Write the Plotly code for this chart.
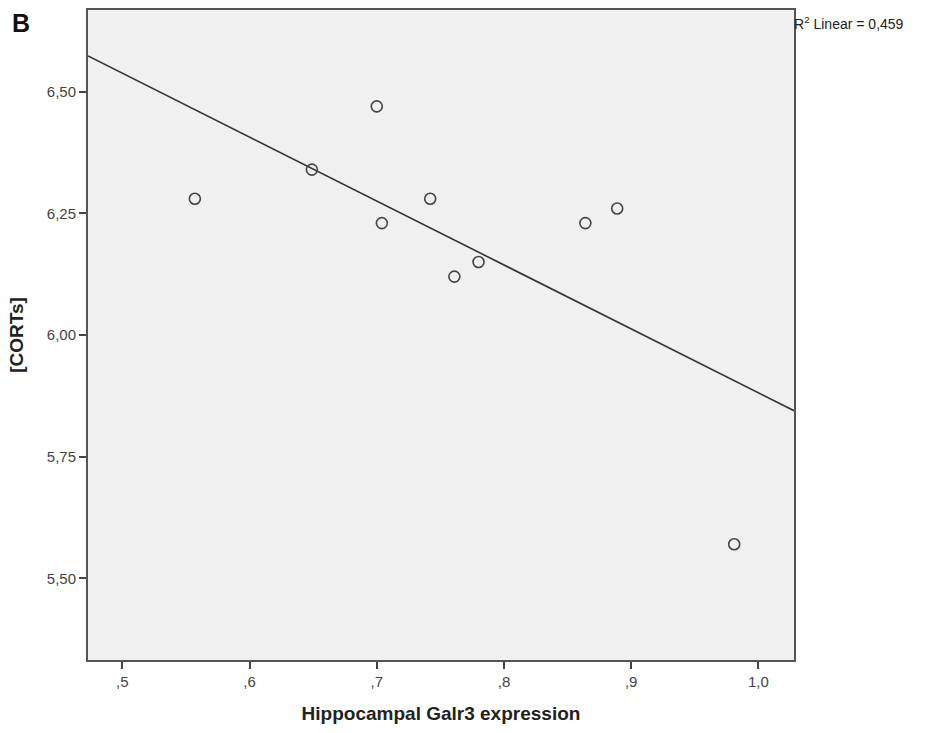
import numpy as np
import plotly.graph_objects as go

# Hippocampal Galr3 expression vs. corticosterone level
galr3 = [0.557, 0.649, 0.700, 0.704, 0.742, 0.761, 0.780, 0.864, 0.889, 0.981]
corts = [6.28, 6.34, 6.47, 6.23, 6.28, 6.12, 6.15, 6.23, 6.26, 5.57]

x_tick_vals = [0.5, 0.6, 0.7, 0.8, 0.9, 1.0]
x_tick_text = [",5", ",6", ",7", ",8", ",9", "1,0"]
y_tick_vals = [5.50, 5.75, 6.00, 6.25, 6.50]
y_tick_text = ["5,50", "5,75", "6,00", "6,25", "6,50"]

x_range = [0.473, 1.028]
y_range = [5.332, 6.668]

# Least-squares fit line across the full x range
xs = np.array(galr3)
ys = np.array(corts)
slope, intercept = np.polyfit(xs, ys, 1)
pred = slope * xs + intercept
r2 = 1 - np.sum((ys - pred) ** 2) / np.sum((ys - ys.mean()) ** 2)
line_x = np.array(x_range)
line_y = slope * line_x + intercept

FONT = "Liberation Sans, Arial, sans-serif"

fig = go.Figure()
fig.add_trace(go.Scatter(
    x=line_x, y=line_y, mode="lines",
    line=dict(color="#333333", width=1.6),
    hoverinfo="skip", showlegend=False,
))
fig.add_trace(go.Scatter(
    x=galr3, y=corts, mode="markers",
    marker=dict(symbol="circle-open", size=11, color="#444444",
                line=dict(color="#444444", width=1.6)),
    showlegend=False,
))

fig.update_layout(
    width=926, height=733,
    margin=dict(l=88, r=132, t=8, b=73),
    paper_bgcolor="white",
    plot_bgcolor="#f0f0f0",
    font=dict(family=FONT, color="#333333"),
    xaxis=dict(
        range=x_range, tickmode="array", tickvals=x_tick_vals, ticktext=x_tick_text,
        ticks="outside", ticklen=7, tickwidth=2, tickcolor="#444444",
        tickfont=dict(size=15, color="#444444"),
        showgrid=False, zeroline=False,
        showline=True, linecolor="#555555", linewidth=2, mirror=True,
        title=dict(text="<b>Hippocampal Galr3 expression</b>",
                   font=dict(size=19, color="#222222"), standoff=18),
    ),
    yaxis=dict(
        range=y_range, tickmode="array", tickvals=y_tick_vals, ticktext=y_tick_text,
        ticks="outside", ticklen=7, tickwidth=2, tickcolor="#444444",
        tickfont=dict(size=15, color="#444444"),
        showgrid=False, zeroline=False,
        showline=True, linecolor="#555555", linewidth=2, mirror=True,
        title=dict(text="<b>[CORTs]</b>",
                   font=dict(size=19, color="#222222"), standoff=18),
    ),
    annotations=[
        dict(text="<b>B</b>", xref="paper", yref="paper", x=-0.11, y=1.005,
             xanchor="left", yanchor="top", showarrow=False,
             font=dict(size=25, color="#111111", family=FONT)),
        dict(text="R<sup>2</sup> Linear = " + f"{r2:.3f}".replace(".", ","),
             xref="paper", yref="paper", x=1.0, y=1.0, xanchor="left", yanchor="top",
             showarrow=False, xshift=-2, yshift=-2,
             font=dict(size=14, color="#222222", family=FONT)),
    ],
)

fig.write_html("out.html")
